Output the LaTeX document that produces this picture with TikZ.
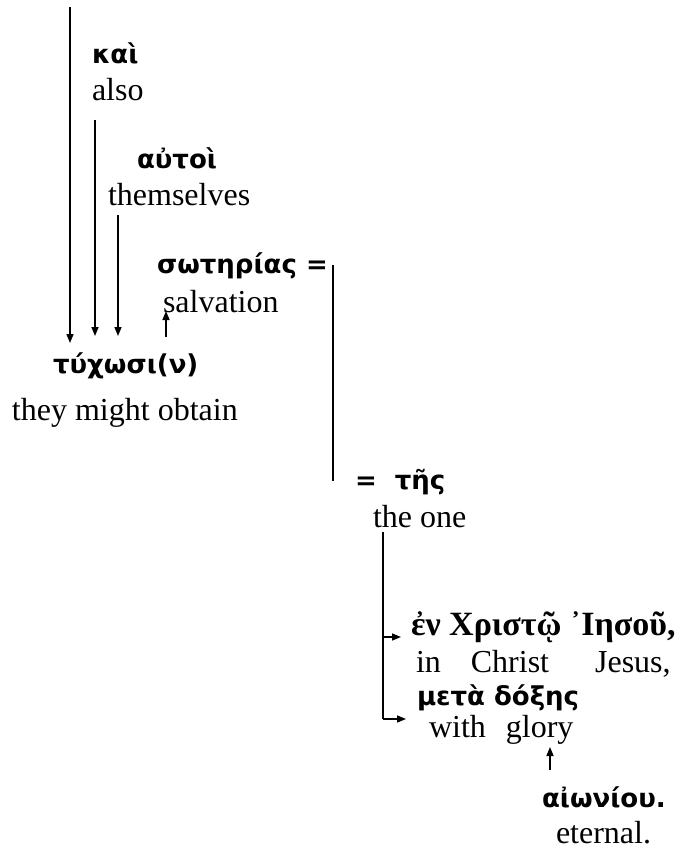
\documentclass[tikz,border=0pt]{standalone}
\usepackage{fontspec}
\setmainfont{Liberation Serif}
\newfontfamily\grk{DejaVu Sans}
\newfontfamily\grks{Liberation Serif}
\usetikzlibrary{arrows.meta}
\begin{document}
\begin{tikzpicture}[x=1pt,y=-1pt,
  every node/.style={inner sep=0pt,outer sep=0pt,anchor=base west},
  gw/.style={font=\grk\bfseries\fontsize{26}{26}\selectfont},
  gs/.style={font=\grks\bfseries\fontsize{34}{34}\selectfont},
  en/.style={font=\fontsize{32}{32}\selectfont},
  ln/.style={line width=1.5pt},
  arr/.style={ln,-{Triangle[length=9pt,width=7pt]}}]
\useasboundingbox (0,0) rectangle (689,852);
% texts
\node[gw] (kai) at (92,63) {καὶ};
\node[en] (also) at (92,100) {also};
\node[gw] (autoi) at (137,168) {αὐτοὶ};
\node[en] (them) at (108,205) {themselves};
\node[gw] (soter) at (157,273) {σωτηρίας =};
\node[en] (salv) at (163,312) {salvation};
\node[gw] (tyx) at (53,373) {τύχωσι(ν)};
\node[en] (obt) at (12,420) {they might obtain};
\node[gw] (tes) at (355,489) {=\ \ τῆς};
\node[en] (one) at (373,527) {the one};
\node[gs] (xr) at (411,635) {ἐν Χριστῷ ᾿Ιησοῦ,};
\node[en] (inx) at (416,672) {in\hspace{30pt}Christ\hspace{46pt}Jesus,};
\node[gw] (meta) at (417,705) {μετὰ δόξης};
\node[en] (glory) at (429,737) {with\hspace{20pt}glory};
\node[gw] (aion) at (542,807) {αἰωνίου.};
\node[en] (eter) at (556,843) {eternal.};
% coordinates
\coordinate (a1s) at (70,7);
\coordinate (a1e) at (70,343);
\coordinate (a2s) at (95,120);
\coordinate (a2e) at (95,336);
\coordinate (a3s) at (118,215);
\coordinate (a3e) at (118,336);
\coordinate (a4s) at (166,337);
\coordinate (a4e) at (166,311);
\coordinate (v1s) at (333,265);
\coordinate (v1e) at (333,481);
\coordinate (v2s) at (383,532);
\coordinate (b1) at (383,637);
\coordinate (b1e) at (401,637);
\coordinate (b2) at (383,719);
\coordinate (b2e) at (406,719);
\coordinate (a5s) at (550,770);
\coordinate (a5e) at (550,747);
% connectors
\draw[arr] (a1s) -- (a1e);
\draw[arr] (a2s) -- (a2e);
\draw[arr] (a3s) -- (a3e);
\draw[arr] (a4s) -- (a4e);
\draw[ln] (v1s) -- (v1e);
\draw[ln] (v2s) -- (b2);
\draw[arr] (b1) -- (b1e);
\draw[arr] (b2) -- (b2e);
\draw[arr] (a5s) -- (a5e);
\end{tikzpicture}
\end{document}
